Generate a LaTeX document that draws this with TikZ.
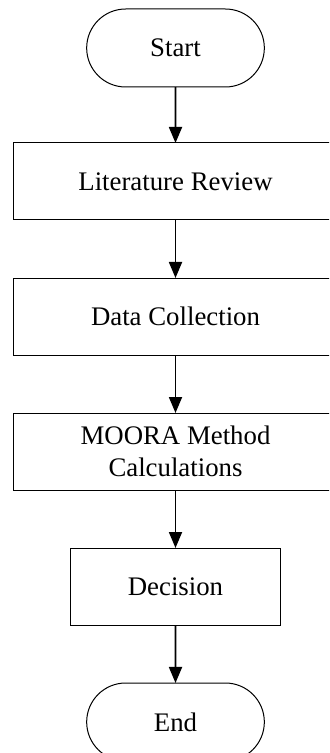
\documentclass[tikz,border=0pt]{standalone}
\usepackage{fontspec}
\setmainfont{Liberation Serif}
\usetikzlibrary{arrows.meta, positioning, shapes.misc}

\begin{document}
\begin{tikzpicture}[
    every node/.style={font=\fontsize{13.4}{16}\selectfont, align=center, outer sep=0pt},
    terminal/.style={rounded rectangle, draw, line width=0.5pt, minimum width=95.5pt, minimum height=39pt},
    process/.style={rectangle, draw, line width=0.5pt, minimum width=162.5pt, minimum height=38.5pt},
    flow/.style={-{Triangle[width=6.5pt,length=8pt]}, line width=0.9pt}
]
    % Page frame (the wide boxes run past the right edge)
    \useasboundingbox (0,0) rectangle (164.5pt,-376.5pt);
    \clip (0,0) rectangle (164.5pt,-376.5pt);
    % Steps
    \node[terminal] (start) at (87.75pt,-24pt) {Start};
    \node[process, below=28pt of start] (litrev) {Literature Review};
    \node[process, below=29pt of litrev] (datacol) {Data Collection};
    \node[process, below=29pt of datacol] (moora) {MOORA Method\\Calculations};
    \node[process, minimum width=105pt, below=29pt of moora] (decision) {Decision};
    \node[terminal, below=29pt of decision] (stop) {End};
    % Arrows between steps
    \foreach \a/\b in {start/litrev, litrev/datacol, datacol/moora, moora/decision, decision/stop}
        \draw[flow] (\a) -- (\b);
\end{tikzpicture}
\end{document}
